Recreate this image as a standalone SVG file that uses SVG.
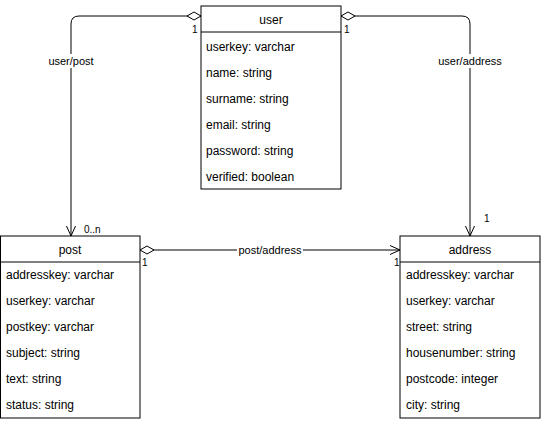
<svg xmlns="http://www.w3.org/2000/svg" width="541" height="422" viewBox="0 0 541 422">
<style>
.box{fill:#fff;stroke:#000;stroke-width:1}
.t{font-family:"Liberation Sans",Arial,sans-serif;font-size:12px;fill:#000}
.c{text-anchor:middle}
.lbl{font-family:"Liberation Sans",Arial,sans-serif;font-size:11px;fill:#000;text-anchor:middle}
.card{font-family:"Liberation Sans",Arial,sans-serif;font-size:10px;fill:#000}
.ln{fill:none;stroke:#000;stroke-width:1}
</style>
<defs>
<marker id="dia" markerWidth="16" markerHeight="10" refX="15" refY="5" orient="auto-start-reverse" markerUnits="userSpaceOnUse">
<path d="M1,5 L8,1 L15,5 L8,9 Z" fill="#fff" stroke="#000" stroke-width="1"/>
</marker>
<marker id="arr" markerWidth="12" markerHeight="12" refX="11" refY="6" orient="auto" markerUnits="userSpaceOnUse">
<path d="M1,1.5 L11,6 L1,10.5" fill="none" stroke="#000" stroke-width="1"/>
</marker>
</defs>
<rect width="541" height="422" fill="#fff"/>
<g id="connectors">
<path class="ln" d="M201,16 L79,16 Q71,16 71,24 L71,236" marker-start="url(#dia)" marker-end="url(#arr)"/>
<path class="ln" d="M341,16 L462,16 Q470,16 470,24 L470,236" marker-start="url(#dia)" marker-end="url(#arr)"/>
<path class="ln" d="M140,250 L400,250" marker-start="url(#dia)" marker-end="url(#arr)"/>
<rect x="45" y="54" width="52" height="14" fill="#fff"/>
<text class="lbl" x="71" y="65">user/post</text>
<rect x="436" y="54" width="68" height="14" fill="#fff"/>
<text class="lbl" x="470" y="65">user/address</text>
<rect x="237" y="243" width="66" height="14" fill="#fff"/>
<text class="lbl" x="270" y="254">post/address</text>
<text class="card" x="192" y="33">1</text>
<text class="card" x="344" y="33">1</text>
<text class="card" x="84" y="233">0..n</text>
<text class="card" x="484" y="222">1</text>
<text class="card" x="142" y="266">1</text>
<text class="card" x="394" y="266">1</text>
</g>
<g id="user">
<rect class="box" x="201" y="6" width="140" height="183"/>
<line class="ln" x1="201" y1="32" x2="341" y2="32"/>
<text class="t c" x="271" y="24">user</text>
<text class="t" x="206" y="51">userkey: varchar</text>
<text class="t" x="206" y="77">name: string</text>
<text class="t" x="206" y="103">surname: string</text>
<text class="t" x="206" y="129">email: string</text>
<text class="t" x="206" y="155">password: string</text>
<text class="t" x="206" y="181">verified: boolean</text>
</g>
<g id="post">
<rect class="box" x="0.5" y="236" width="139.5" height="182"/>
<line class="ln" x1="0.5" y1="262" x2="140" y2="262"/>
<text class="t c" x="70" y="254">post</text>
<text class="t" x="6" y="279">addresskey: varchar</text>
<text class="t" x="6" y="305">userkey: varchar</text>
<text class="t" x="6" y="331">postkey: varchar</text>
<text class="t" x="6" y="357">subject: string</text>
<text class="t" x="6" y="383">text: string</text>
<text class="t" x="6" y="409">status: string</text>
</g>
<g id="address">
<rect class="box" x="400" y="236" width="140" height="182"/>
<line class="ln" x1="400" y1="262" x2="540" y2="262"/>
<text class="t c" x="470" y="254">address</text>
<text class="t" x="406" y="279">addresskey: varchar</text>
<text class="t" x="406" y="305">userkey: varchar</text>
<text class="t" x="406" y="331">street: string</text>
<text class="t" x="406" y="357">housenumber: string</text>
<text class="t" x="406" y="383">postcode: integer</text>
<text class="t" x="406" y="409">city: string</text>
</g>
</svg>
